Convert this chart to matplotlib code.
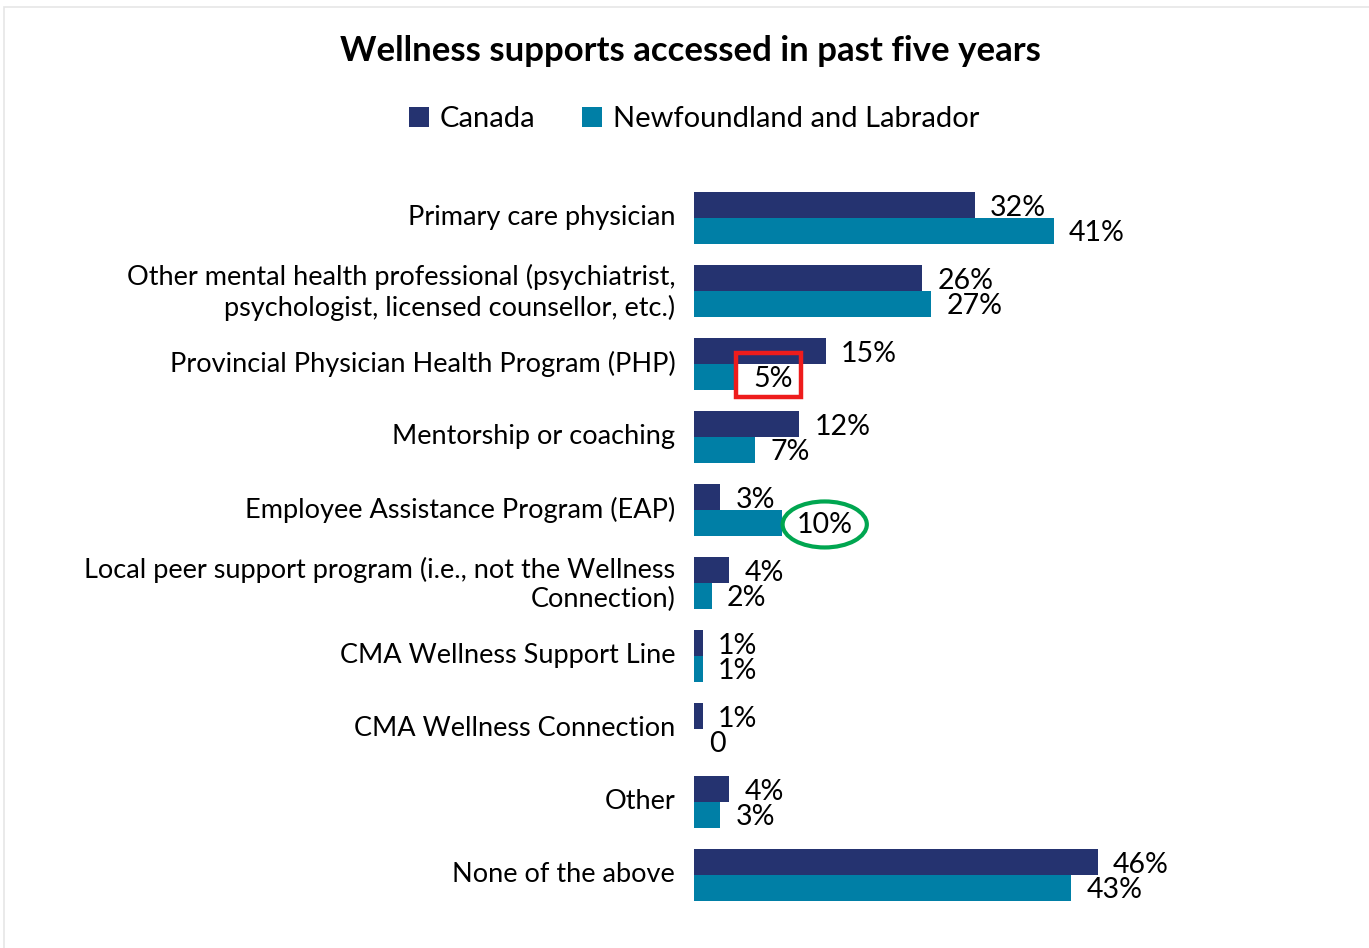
import matplotlib
matplotlib.use("Agg")
import matplotlib.pyplot as plt
import matplotlib.transforms as mtransforms
import numpy as np
from matplotlib.patches import Rectangle, Ellipse

plt.rcParams["font.family"] = ["Lato", "DejaVu Sans"]

categories = [
    "Primary care physician",
    "Other mental health professional (psychiatrist,\npsychologist, licensed counsellor, etc.)",
    "Provincial Physician Health Program (PHP)",
    "Mentorship or coaching",
    "Employee Assistance Program (EAP)",
    "Local peer support program (i.e., not the Wellness\nConnection)",
    "CMA Wellness Support Line",
    "CMA Wellness Connection",
    "Other",
    "None of the above",
]
canada = [32, 26, 15, 12, 3, 4, 1, 1, 4, 46]
nl = [41, 27, 5, 7, 10, 2, 1, 0, 3, 43]
canada_labels = ["32%", "26%", "15%", "12%", "3%", "4%", "1%", "1%", "4%", "46%"]
nl_labels = ["41%", "27%", "5%", "7%", "10%", "2%", "1%", "0", "3%", "43%"]
series_names = ["Canada", "Newfoundland and Labrador"]

navy = "#253370"
teal = "#007FA6"

W, H = 1369, 948
fig = plt.figure(figsize=(W / 100, H / 100), dpi=100)

# thin frame around the chart area
fig.patches.append(
    Rectangle((4 / W, -0.01), 1.02, 1 - 7 / H + 0.01, transform=fig.transFigure,
              fill=False, edgecolor="#e6e6e6", linewidth=1.2)
)

ax = fig.add_axes([694 / W, 1 - 911.5 / H, 658 / W, 730 / H])
y = np.arange(len(categories))
bh = 26 / 73

ax.barh(y - bh / 2, canada, height=bh, color=navy, label=series_names[0])
ax.barh(y + bh / 2, nl, height=bh, color=teal, label=series_names[1])

for i in range(len(categories)):
    ax.annotate(canada_labels[i], (canada[i], y[i] - bh / 2 + 0.04), xytext=(11, 0),
                textcoords="offset points", ha="left", va="center", fontsize=20.5)
    ax.annotate(nl_labels[i], (nl[i], y[i] + bh / 2 + 0.03), xytext=(11, 0),
                textcoords="offset points", ha="left", va="center", fontsize=20.5)

# highlight marks around two NL values
i_php = categories.index("Provincial Physician Health Program (PHP)")
i_eap = categories.index("Employee Assistance Program (EAP)")
ax.add_patch(Rectangle((nl[i_php] - 0.25, i_php - 0.15), 7.5, 0.6,
                       fill=False, edgecolor="#ee1c1c", linewidth=3.2, clip_on=False))
ax.add_patch(Ellipse((nl[i_eap] + 4.9, i_eap + bh / 2 + 0.02), 9.6, 0.63,
                     fill=False, edgecolor="#00a650", linewidth=3, clip_on=False))

ax.set_xlim(0, 75)
ax.set_ylim(len(categories) - 0.5, -0.5)
ax.set_yticks(y)
ax.set_yticklabels(categories, fontsize=19.5, linespacing=1.2)
ax.tick_params(axis="y", length=0, pad=13.5)
# nudge category labels up a little
shift = mtransforms.ScaledTranslation(0, 3 / 100, fig.dpi_scale_trans)
for lbl in ax.get_yticklabels():
    lbl.set_transform(lbl.get_transform() + shift)
ax.set_xticks([])
for s in ax.spines.values():
    s.set_visible(False)

fig.text(690 / W, 1 - 51 / H, "Wellness supports accessed in past five years",
         ha="center", va="center", fontsize=25, fontweight="bold")
fig.legend(loc="center", bbox_to_anchor=(694 / W, 1 - 119 / H), ncol=2,
           frameon=False, fontsize=21, handlelength=0.7, handleheight=0.7,
           handletextpad=0.35, columnspacing=1.6)

fig.savefig("out.png", dpi=100)
